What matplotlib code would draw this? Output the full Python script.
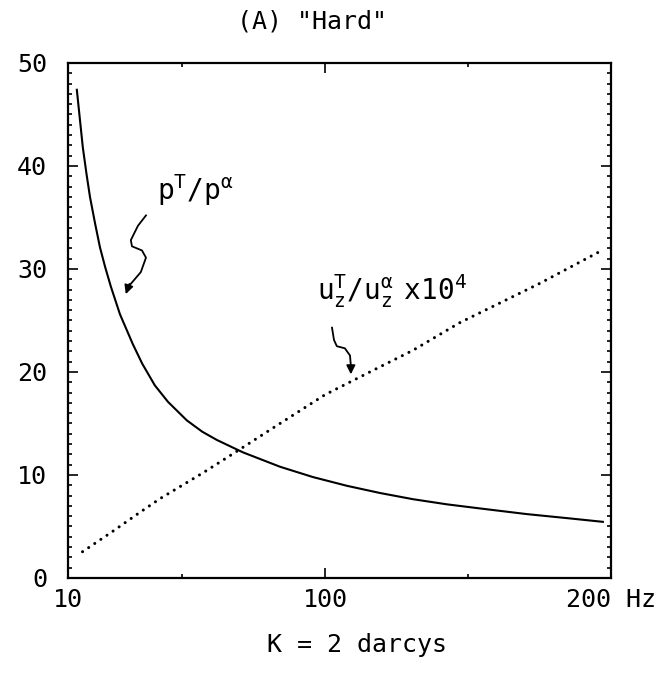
import matplotlib
matplotlib.use('Agg')
import matplotlib.pyplot as plt
from matplotlib.ticker import MultipleLocator

# pressure ratio p^T/p^alpha (solid curve)
p_freq = [13.1, 14.0, 15.2, 16.5, 17.7, 19.5, 21.2, 23.0, 25.0, 28.2, 32.7,
          36.0, 40.4, 45.0, 51.6, 57.0, 62.1, 71.2, 84.2, 95.7, 107.6,
          119.2, 130.7, 142.6, 154.2, 170.6, 185.0, 197.2]
p_ratio = [47.4, 45.0, 41.8, 39.2, 37.0, 34.4, 32.1, 30.2, 28.3, 25.6, 22.7,
           20.8, 18.7, 17.1, 15.3, 14.2, 13.4, 12.2, 10.8, 9.8, 8.95,
           8.25, 7.65, 7.15, 6.75, 6.2, 5.8, 5.45]

# displacement ratio u_z^T/u_z^alpha x 10^4 (dotted curve)
u_freq = [15.1, 25.0, 34.8, 42.2, 57.2, 67.4, 84.2, 100.0, 119.2, 130.7,
          147.2, 175.1, 196.8]
u_ratio = [2.55, 4.4, 6.3, 7.7, 10.2, 12.0, 15.0, 17.8, 20.5, 22.1,
           24.8, 28.6, 31.8]

x_ticks = [10, 100, 200]
x_labels = ['10', '100', '200 Hz']
y_ticks = [0, 10, 20, 30, 40, 50]

plt.rcParams['font.family'] = ['DejaVu Sans Mono']
plt.rcParams['mathtext.fontset'] = 'custom'
plt.rcParams['mathtext.rm'] = 'DejaVu Sans Mono'
plt.rcParams['mathtext.it'] = 'DejaVu Sans Mono'

fig = plt.figure(figsize=(6.67, 6.73), dpi=100)
ax = fig.add_axes([0.1019, 0.1412, 0.814, 0.7652])

ax.plot(p_freq, p_ratio, color='black', lw=1.5)
ax.plot(u_freq, u_ratio, color='black', lw=2.2,
        linestyle=(0, (0.01, 2.4)), dash_capstyle='round')

ax.set_xlim(10, 200)
ax.set_ylim(0, 50)
ax.set_xticks(x_ticks)
ax.set_xticklabels(x_labels)
ax.set_yticks(y_ticks)
ax.xaxis.set_minor_locator(MultipleLocator(50))
ax.yaxis.set_minor_locator(MultipleLocator(1))
ax.tick_params(which='both', direction='in', top=True, right=True,
               labelsize=18, width=1.2)
ax.tick_params(which='major', length=7)
ax.tick_params(which='minor', length=3)
ax.tick_params(axis='y', pad=15)
ax.tick_params(axis='x', pad=7)
for s in ax.spines.values():
    s.set_linewidth(1.6)

# curve labels
ax.text(41.1, 36.7, r'$\mathrm{p}^{\mathrm{T}}/\mathrm{p}^{\alpha}$',
        fontsize=20, ha='left', va='baseline')
ax.text(97.1, 27.0,
        r'$\mathrm{u}_{\mathrm{z}}^{\mathrm{T}}/\mathrm{u}_{\mathrm{z}}^{\alpha}\ \ \mathrm{x10}^{4}$',
        fontsize=20, ha='left', va='baseline')

# squiggly pointer arrows
sq_p_x = [37.3, 34.5, 32.0, 32.4, 35.9, 37.3, 35.5, 31.5]
sq_p_y = [35.2, 34.2, 32.8, 32.2, 31.8, 31.1, 29.7, 28.4]
ax.plot(sq_p_x, sq_p_y, color='black', lw=1.3)
ax.annotate('', xy=(29.9, 27.3), xytext=(31.8, 28.8),
            arrowprops=dict(arrowstyle='-|>', color='black', lw=1.3,
                            mutation_scale=13))

sq_u_x = [102.4, 103.1, 104.1, 106.9, 108.7, 109.0]
sq_u_y = [24.3, 23.1, 22.5, 22.3, 21.6, 20.6]
ax.plot(sq_u_x, sq_u_y, color='black', lw=1.3)
ax.annotate('', xy=(109.0, 19.5), xytext=(109.0, 20.8),
            arrowprops=dict(arrowstyle='-|>', color='black', lw=1.3,
                            mutation_scale=13))

fig.text(312 / 667, 1 - 22 / 673, '(A) "Hard"', fontsize=18,
         ha='center', va='center')
fig.text(357 / 667, 1 - 645 / 673, 'K = 2 darcys', fontsize=18,
         ha='center', va='center')

fig.savefig('out.png', dpi=100, facecolor='white')
